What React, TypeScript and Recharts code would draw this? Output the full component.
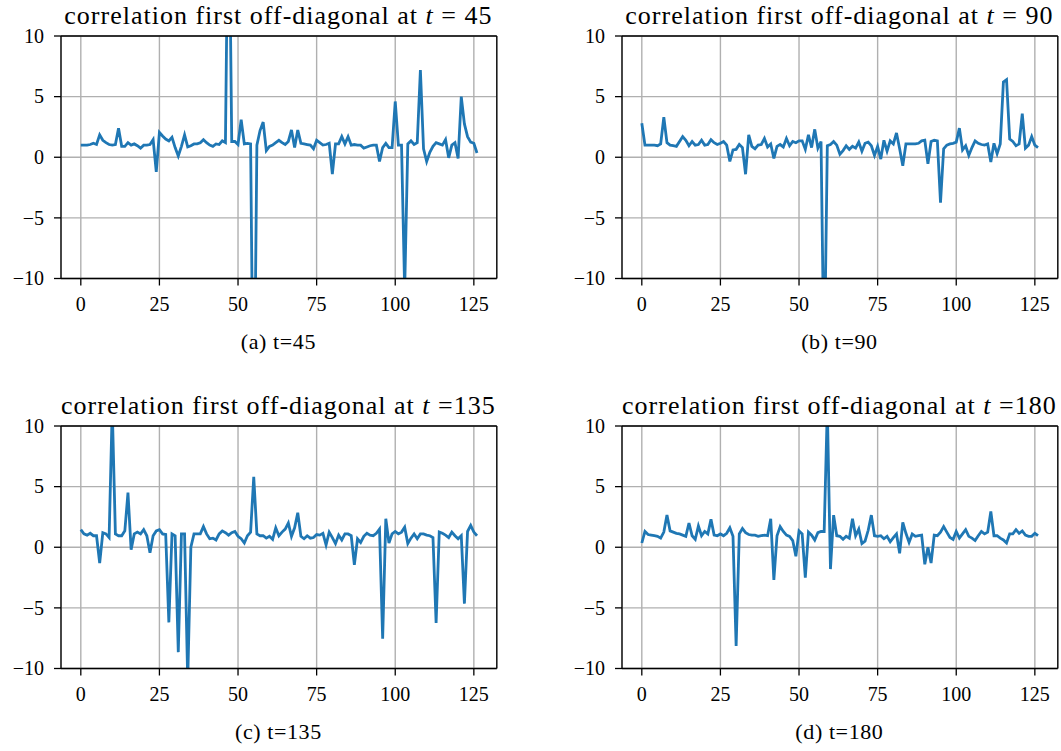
// Four panels of the first off-diagonal of a correlation matrix at t = 45, 90, 135, 180.
import { CartesianGrid, Line, LineChart, ReferenceLine, XAxis, YAxis } from "recharts";

const xTicks = [0, 25, 50, 75, 100, 125];
const yTicks = [-10, -5, 0, 5, 10];

const corrT45 = [
  1.0, 1.0, 1.0, 1.05, 1.15, 1.05, 1.85, 1.4, 1.2, 1.05,
  1.0, 1.05, 2.4, 0.9, 0.9, 1.2, 1.0, 1.1, 0.95, 0.75,
  1.0, 1.0, 1.05, 1.45, -1.2, 2.05, 1.75, 1.5, 1.35, 1.65,
  0.8, 0.1, 0.9, 1.85, 0.85, 0.95, 1.1, 1.1, 1.2, 1.45,
  1.2, 1.0, 0.9, 1.1, 1.05, 1.35, 1.2, 25, 1.3, 1.3,
  1.05, 3.1, 1.1, 1.15, 1.1, -25, 1.0, 2.2, 2.9, 0.55,
  0.9, 1.0, 1.2, 1.4, 1.2, 1.05, 1.3, 2.25, 0.8, 2.25,
  1.15, 1.1, 1.05, 1.0, 0.7, 1.4, 1.2, 1.0, 1.05, 1.15,
  -1.4, 1.1, 1.1, 1.7, 1.1, 1.7, 1.0, 1.05, 1.0, 1.0,
  0.75, 0.85, 0.95, 1.0, 1.0, -0.35, 0.8, 1.15, 0.8, 0.8,
  4.6, 1.0, 1.0, -11, 1.1, 1.35, 1.05, 1.2, 7.2, 0.7,
  -0.35, 0.4, 0.9, 1.2, 1.1, 1.0, 1.45, -0.05, 1.0, 1.2,
  -0.1, 5.0, 2.75, 1.7, 1.25, 1.15, 0.35,
];

const corrT90 = [
  2.8, 1.0, 1.0, 1.0, 1.0, 0.95, 1.1, 3.3, 1.2, 1.0,
  0.95, 0.9, 1.3, 1.7, 1.4, 0.95, 1.3, 1.0, 1.05, 1.4,
  1.0, 1.05, 1.45, 1.2, 1.05, 1.15, 1.3, 1.0, -0.35, 0.6,
  0.65, 1.05, 0.8, -1.4, 1.85, 0.9, 0.7, 1.0, 1.05, 1.55,
  0.85, 1.1, -0.1, 0.9, 1.05, 0.85, 1.55, 0.95, 1.3, 1.2,
  1.35, 1.35, 0.65, 1.85, 0.8, 2.3, 0.75, 1.3, -18, 0.95,
  1.05, 1.3, 1.0, 0.25, 0.55, 0.95, 0.65, 0.9, 0.75, 1.25,
  0.5, 1.15, 1.25, 0.95, 0.15, 0.9, -0.15, 1.4, 0.5, 1.35,
  1.1, 2.0, 0.7, -0.7, 1.1, 1.1, 1.1, 1.1, 1.15, 1.35,
  1.4, -0.55, 1.3, 1.4, 1.35, -3.75, 0.7, 1.0, 1.1, 1.15,
  1.25, 2.4, 0.6, 0.95, 0.15, 0.8, 1.35, 1.15, 1.05, 1.0,
  1.1, -0.4, 1.15, 0.3, 1.1, 6.2, 6.4, 1.5, 1.3, 0.95,
  1.1, 3.6, 0.75, 1.0, 1.7, 1.0, 0.8,
];

const corrT135 = [
  1.45, 1.1, 1.0, 1.15, 0.95, 0.95, -1.3, 1.2, 1.1, 0.8,
  11.5, 1.1, 0.95, 0.95, 1.35, 4.5, -0.2, 1.1, 1.25, 1.1,
  1.45, 0.95, -0.45, 0.95, 1.35, 1.45, 1.1, 1.05, -6.2, 1.1,
  0.95, -8.65, 1.1, 1.1, -11, 0.0, 1.1, 1.1, 1.1, 1.7,
  1.1, 0.7, 0.75, 0.6, 1.1, 1.35, 1.2, 1.0, 1.2, 1.3,
  0.9, 0.7, 0.35, 0.95, 1.25, 5.8, 1.1, 0.95, 0.95, 0.75,
  0.9, 0.65, 1.6, 0.95, 1.25, 1.5, 2.0, 0.9, 1.6, 2.85,
  0.9, 0.7, 0.95, 0.75, 0.8, 1.05, 1.0, 1.15, 0.2, 1.25,
  0.8, 0.3, 1.0, 0.6, 1.1, 1.1, 0.95, -1.45, 0.7, 0.4,
  0.9, 1.15, 1.0, 0.95, 1.15, 1.5, -7.55, 2.35, 0.35, 1.1,
  1.3, 1.1, 1.25, 1.65, 0.3, 0.75, 1.1, 0.7, 1.1, 1.1,
  1.0, 0.95, 0.8, -6.25, 1.25, 1.15, 1.0, 0.8, 1.25, 0.95,
  0.7, 0.95, -4.65, 1.3, 1.8, 1.25, 0.95,
];

const corrT180 = [
  0.35, 1.3, 1.05, 1.0, 0.95, 0.9, 0.75, 1.25, 2.65, 1.35,
  1.25, 1.15, 1.1, 1.0, 0.9, 2.0, 0.95, 0.65, 1.75, 0.95,
  1.3, 1.1, 2.3, 1.0, 0.95, 1.1, 0.95, 1.15, 1.6, 0.9,
  -8.15, 1.1, 1.55, 1.2, 1.05, 1.0, 1.0, 0.9, 0.95, 1.0,
  0.95, 2.35, -2.7, 0.95, 1.7, 1.3, 1.0, 0.9, 0.55, -0.75,
  1.35, 1.1, -2.5, 1.25, 1.0, 0.6, 1.2, 1.3, 1.3, 11.5,
  -1.8, 2.65, 0.95, 0.9, 0.65, 0.9, 0.75, 2.35, 0.95, 1.5,
  0.3, 0.5, 1.4, 2.65, 0.95, 0.9, 0.95, 0.7, 0.9, 0.45,
  0.8, 1.1, -0.5, 2.05, 1.15, 0.4, 1.1, 0.9, 0.95, 1.0,
  -1.4, 0.0, -1.3, 1.0, 0.95, 1.25, 1.7, 1.25, 0.8, 0.65,
  1.3, 0.75, 1.1, 1.45, 0.9, 0.75, 0.55, 0.95, 1.3, 1.1,
  1.25, 2.95, 0.95, 0.95, 0.75, 0.6, 0.35, 1.1, 1.1, 1.45,
  1.15, 1.35, 1.0, 0.9, 0.9, 1.15, 0.95,
];

const titles = [
  ["correlation first off-diagonal at ", "t", " = 45"],
  ["correlation first off-diagonal at ", "t", " = 90"],
  ["correlation first off-diagonal at ", "t", " =135"],
  ["correlation first off-diagonal at ", "t", " =180"],
];
const captions = ["(a) t=45", "(b) t=90", "(c) t=135", "(d) t=180"];
const series = [corrT45, corrT90, corrT135, corrT180];

// plot-area geometry (px)
const PW = 435.8;
const PH = 242.5;
const YW = 60;
const XH = 45;
const MT = 16;
const X_DOMAIN: [number, number] = [-6.3, 132.3];
const lefts = [60.5, 621.5, 60.5, 621.5];
const tops = [35.8, 35.8, 425.7, 425.7];

const FONT = "Liberation Serif, DejaVu Serif, serif";
const serif = { fontFamily: FONT };
const BLUE = "#1f77b4";
const SPINE = { stroke: "#000", strokeWidth: 1.3 };
const fmt = (v: number) => (v < 0 ? `\u2212${Math.abs(v)}` : `${v}`);

const XTick = ({ x, y, payload }: any) => (
  <text x={x} y={y} dy="0.71em" textAnchor="middle" style={serif} fontSize={20} fill="#000">
    {fmt(payload.value)}
  </text>
);
const YTick = ({ x, y, payload }: any) => (
  <text x={x} y={y} dy="0.34em" textAnchor="end" style={serif} fontSize={20} fill="#000">
    {fmt(payload.value)}
  </text>
);

function Panel({ values, left, top }: { values: number[]; left: number; top: number }) {
  const data = values.map((v, i) => ({ i, v }));
  return (
    <div style={{ position: "absolute", left: left - YW, top: top - MT, ...serif }}>
      <LineChart width={YW + PW + 6} height={MT + PH + XH} data={data} margin={{ top: MT, right: 6, bottom: 0, left: 0 }}>
        <CartesianGrid stroke="#b0b0b0" strokeWidth={1.4} />
        <XAxis
          dataKey="i"
          type="number"
          domain={X_DOMAIN}
          ticks={xTicks}
          allowDataOverflow
          height={XH}
          tickSize={7}
          tickMargin={11}
          tick={<XTick />}
          tickLine={SPINE}
          axisLine={SPINE}
        />
        <YAxis
          type="number"
          domain={[-10, 10]}
          ticks={yTicks}
          allowDataOverflow
          width={YW}
          tickSize={7}
          tickMargin={10}
          tick={<YTick />}
          tickLine={SPINE}
          axisLine={SPINE}
        />
        <Line type="linear" dataKey="v" stroke={BLUE} strokeWidth={2.8} dot={false} isAnimationActive={false} />
        <ReferenceLine y={10} stroke="#000" strokeWidth={1.3} />
        <ReferenceLine x={X_DOMAIN[1]} stroke="#000" strokeWidth={1.3} />
      </LineChart>
    </div>
  );
}

export default function App() {
  return (
    <div style={{ position: "absolute", left: 0, top: 0, width: 1061, height: 751, background: "#fff", ...serif }}>
      {series.map((values, k) => (
        <Panel key={k} values={values} left={lefts[k]} top={tops[k]} />
      ))}
      <svg width={1061} height={751} style={{ position: "absolute", left: 0, top: 0, pointerEvents: "none" }}>
        {titles.map((t, k) => (
          <text key={`t${k}`} x={lefts[k] + PW / 2} y={tops[k] - 11.8} textAnchor="middle" style={serif} fontSize={26} letterSpacing={1} fill="#000">
            {t[0]}
            <tspan fontStyle="italic">{t[1]}</tspan>
            {t[2]}
          </text>
        ))}
        {captions.map((c, k) => (
          <text key={`c${k}`} x={lefts[k] + PW / 2} y={tops[k] + 313.2} textAnchor="middle" style={serif} fontSize={22} letterSpacing={0.6} fill="#000">
            {c}
          </text>
        ))}
      </svg>
    </div>
  );
}
